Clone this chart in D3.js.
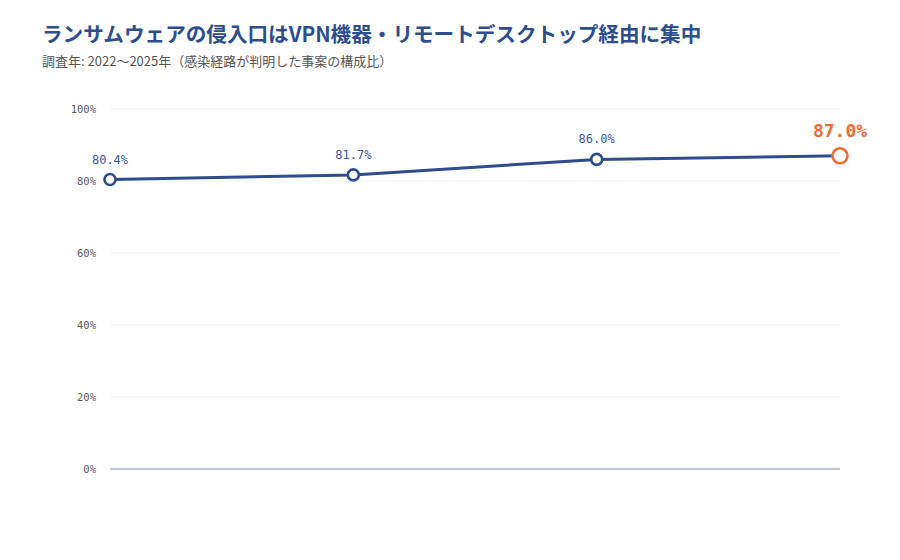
<!DOCTYPE html>
<html>
<head>
<meta charset="utf-8">
<script src="https://cdn.jsdelivr.net/npm/d3@7"></script>
<style>
    body { margin: 0; background: #fff; }
    text { font-family: "Noto Sans CJK JP", "Noto Sans", sans-serif; }
    .num { font-family: "DejaVu Sans Mono", monospace; }
</style>
</head>
<body>
<div id="chart"></div>
<script>
// 調査年ごとの構成比
const years = ['2022', '2023', '2024', '2025'];
const shares = [80.4, 81.7, 86.0, 87.0];
const yTicks = [0, 20, 40, 60, 80, 100];

const width = 900;
const height = 560;
const margin = { top: 109, right: 60, bottom: 91, left: 110 };

const svg = d3.select('#chart')
    .append('svg')
    .attr('width', width)
    .attr('height', height);

// タイトル
svg.append('text')
    .attr('x', 42)
    .attr('y', 42)
    .attr('font-size', '20.6px')
    .attr('font-weight', 'bold')
    .attr('fill', '#2d4d8c')
    .text('ランサムウェアの侵入口はVPN機器・リモートデスクトップ経由に集中');

svg.append('text')
    .attr('x', 42)
    .attr('y', 66)
    .attr('font-size', '13px')
    .attr('fill', '#555')
    .text('調査年: 2022〜2025年（感染経路が判明した事案の構成比）');

const x = d3.scalePoint()
    .domain(years)
    .range([margin.left, width - margin.right]);

const y = d3.scaleLinear()
    .domain([0, 100])
    .range([height - margin.bottom, margin.top]);

// グリッド
const grid = svg.append('g');
grid.selectAll('line')
    .data(yTicks)
    .enter()
    .append('line')
    .attr('x1', margin.left)
    .attr('x2', width - margin.right)
    .attr('y1', d => y(d))
    .attr('y2', d => y(d))
    .attr('stroke', d => d === 0 ? '#a9b3c1' : '#eef1f5')
    .attr('stroke-width', d => d === 0 ? 1.5 : 1.2);

const yAxis = svg.append('g')
    .attr('transform', `translate(${margin.left - 14},0)`)
    .call(d3.axisLeft(y).tickValues(yTicks).tickSize(0).tickFormat(d => d + '%'));
yAxis.select('.domain').remove();
yAxis.selectAll('text')
    .attr('class', 'num')
    .attr('font-size', '10.5px')
    .attr('fill', '#5a5a5a')
    .attr('dy', '0.32em')
    .attr('x', 0);

// 折れ線
const line = d3.line()
    .x((d, i) => x(years[i]))
    .y(d => y(d));

svg.append('path')
    .datum(shares)
    .attr('d', line)
    .attr('fill', 'none')
    .attr('stroke', '#2d4d8c')
    .attr('stroke-width', 3);

const last = shares.length - 1;

svg.selectAll('circle.pt')
    .data(shares)
    .enter()
    .append('circle')
    .attr('class', 'pt')
    .attr('cx', (d, i) => x(years[i]))
    .attr('cy', d => y(d))
    .attr('r', (d, i) => i === last ? 7.5 : 5.5)
    .attr('fill', '#fff')
    .attr('stroke', (d, i) => i === last ? '#ef6a35' : '#2d4d8c')
    .attr('stroke-width', 2.6);

svg.selectAll('text.val')
    .data(shares)
    .enter()
    .append('text')
    .attr('class', 'val num')
    .attr('x', (d, i) => x(years[i]))
    .attr('y', (d, i) => y(d) - (i === last ? 19 : 16))
    .attr('text-anchor', 'middle')
    .attr('font-size', (d, i) => i === last ? '18px' : '12px')
    .attr('font-weight', (d, i) => i === last ? 'bold' : 'normal')
    .attr('fill', (d, i) => i === last ? '#ef6a35' : '#3a5a9a')
    .text(d => d.toFixed(1) + '%');
</script>
</body>
</html>
